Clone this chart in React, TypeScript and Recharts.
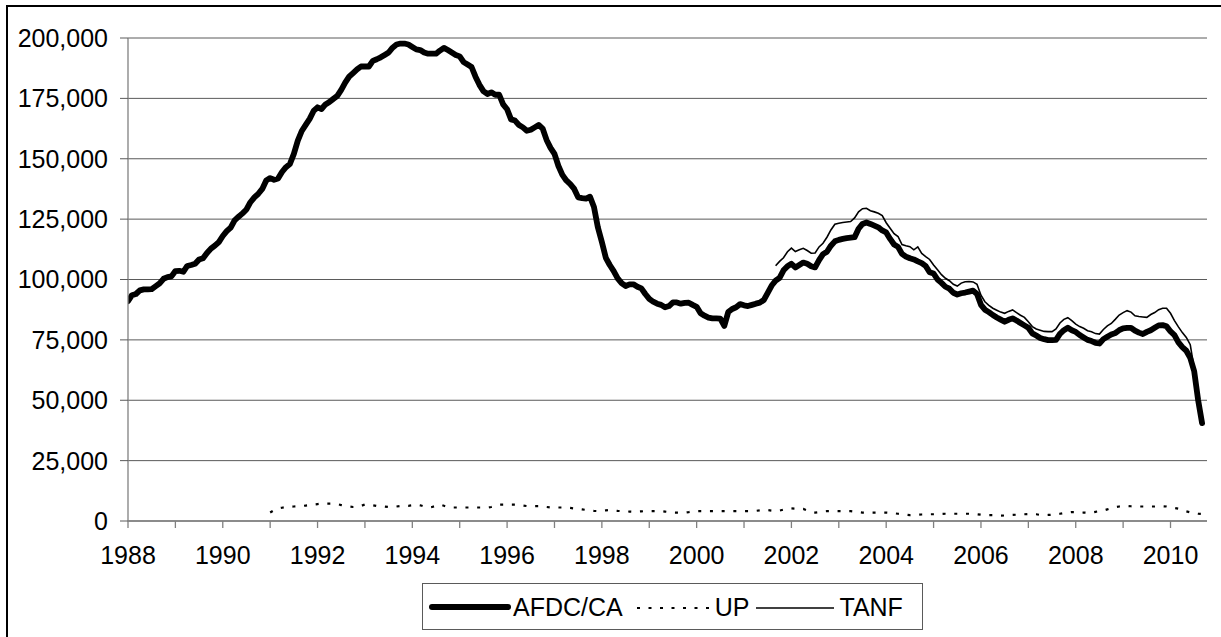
import React from 'react';
import { LineChart, Line, XAxis, YAxis, CartesianGrid } from 'recharts';

// Monthly caseload data, January 1988 onward
const START_YEAR = 1988;
const UP_START_MONTH = 36; // January 1991
const TANF_START_MONTH = 164; // September 2001

const afdcValues = [
  91000, 93500, 94000, 95500, 95900, 95900, 96000, 97200, 98400, 100300, 101000, 101300,
  103500, 103600, 103200, 105600, 106000, 106500, 108300, 108800, 111000, 112800, 114000, 115500,
  118000, 120000, 121500, 124500, 126000, 127400, 129000, 132000, 134000, 135500, 137500, 141000,
  142000, 141300, 141800, 144500, 146500, 147800, 152000, 157500, 161500, 164000, 166500, 169800,
  171300, 170600, 172500, 173500, 174800, 176000, 178500, 181500, 184000, 185500, 187000, 188200,
  188200, 188200, 190500, 191200, 192000, 193000, 194000, 196000, 197300, 197700, 197700, 197300,
  196300, 195300, 195000, 194000, 193500, 193500, 193500, 194800, 195900, 195000, 194000, 193000,
  192400, 190000, 189000, 188000, 184000, 180600, 178000, 176800, 177500, 176500, 176500, 172500,
  170500, 166300, 165800, 164000, 163000, 161600, 162000, 163000, 164000, 162500, 157800, 154500,
  152000, 147000, 143300, 141000, 139500, 137500, 134000, 133700, 133500, 134300, 130000, 121500,
  115500, 109000, 106000, 103500, 100500, 98500, 97300, 98000, 98000, 97000, 96300, 94000,
  92000, 90800, 90000, 89500, 88500, 89000, 90500, 90500, 90000, 90300, 90400, 89500,
  88700, 86000, 85000, 84200, 83900, 83900, 83800, 80800, 86500, 87800, 88500, 89800,
  89300, 89000, 89500, 90000, 90400, 91500, 94500, 97500, 99500, 100700, 103800, 105500,
  106500, 105000, 106000, 107000, 106500, 105500, 105000, 108000, 110500, 111500, 114000, 115800,
  116400, 116800, 117100, 117300, 117500, 121000, 123000, 123600, 123000, 122300, 121600, 120300,
  119500, 116800, 114500, 113500, 110600, 109500, 108800, 108300, 107500, 106800, 105600, 103000,
  102500, 100000, 98600, 97000, 96200, 94500, 93800, 94300, 94600, 95000, 95400, 94000,
  89500, 87500, 86500, 85300, 84300, 83400, 82500, 83300, 83900, 83000, 82000, 81000,
  80000, 77700, 76800, 75800, 75300, 74900, 74900, 75000, 77500, 79000, 80000, 79000,
  78300, 77000, 76000, 75000, 74500, 73800, 73500, 75300, 76300, 77200, 77800, 79000,
  79800, 80000, 80000, 78800, 78000, 77400, 78300, 79000, 80000, 81000, 81100, 80600,
  78500, 77000, 74000, 72000, 70500, 67500, 62000, 50000, 40500,
];

const upValues = [
  3500, 4500, 5200, 5500, 5800, 5900, 6000, 6100, 6200, 6400, 6600, 6800,
  7000, 7200, 7200, 7200, 7200, 7000, 6600, 6200, 6000, 5800, 5800, 6200,
  6900, 6800, 6500, 6200, 6100, 6000, 5800, 5800, 6000, 6200, 6300, 6300,
  6500, 6800, 6500, 6000, 5600, 5800, 6300, 6800, 6300, 5800, 5600, 5600,
  5600, 5600, 5600, 5600, 5600, 5600, 5600, 5600, 5800, 6300, 6800, 6800,
  6800, 6800, 6800, 6600, 6400, 6200, 6200, 6200, 6200, 6200, 5800, 5600,
  5600, 5600, 5600, 5600, 5400, 5200, 5000, 4800, 4600, 4400, 4200, 4100,
  4200, 4400, 4600, 4400, 4200, 4100, 4000, 3900, 3800, 3900, 4000, 4100,
  4100, 4100, 4100, 4100, 3900, 3700, 3500, 3500, 3500, 3500, 3700, 4000,
  4100, 4100, 4100, 4100, 4100, 4100, 4100, 4100, 4100, 4100, 4100, 4100,
  4100, 4100, 4100, 4200, 4400, 4600, 4500, 4300, 4100, 4300, 4700, 5100,
  5200, 5100, 5000, 5000, 4400, 3800, 3500, 3700, 3900, 4100, 4100, 4100,
  4100, 4100, 4100, 4100, 3900, 3700, 3500, 3500, 3500, 3500, 3500, 3500,
  3500, 3400, 3200, 3000, 2800, 2600, 2400, 2500, 2600, 2700, 2800, 2800,
  2800, 2900, 2900, 3000, 3000, 3000, 3000, 3000, 3000, 3000, 2900, 2800,
  2600, 2500, 2400, 2400, 2300, 2200, 2300, 2400, 2500, 2600, 2700, 2800,
  2900, 3000, 2800, 2500, 2400, 2500, 2600, 2800, 3000, 3300, 3500, 3700,
  3700, 3600, 3500, 3400, 3500, 3800, 4100, 4300, 4800, 5300, 5700, 6000,
  6200, 6200, 6100, 6000, 6000, 6000, 6000, 6000, 6000, 6100, 6100, 6000,
  5700, 5400, 5100, 4700, 4000, 3600, 3300, 3000, 2900,
];

const tanfValues = [
  105700, 107500, 109000, 111500,
  113000, 111600, 112300, 112900, 112000, 110900, 111000, 113500, 115000, 117500, 120500, 122900,
  123300, 123600, 123800, 124000, 125500, 128000, 129300, 129500, 128500, 128000, 127400, 126500,
  123500, 121200, 119000, 117800, 114500, 114000, 113600, 112300, 113500, 110800, 109500, 108300,
  106000, 104000, 102000, 100500, 99500, 98000, 97300, 98500, 99100, 99200, 99000, 98000,
  93500, 90800, 89300, 88100, 87300, 86500, 86000, 86800, 87400, 86300, 85200, 84300,
  82500, 80500, 79500, 79000, 78500, 78400, 78400, 79500, 82000, 83500, 84200, 83000,
  81500, 80500, 79800, 78800, 78400, 77600, 77400, 79300, 80800, 81800, 83500, 85300,
  86300, 87100, 86500, 85000, 84700, 84500, 84300, 85500, 86300, 87500, 88100, 88100,
  86000, 83000, 80400, 78000, 76000, 73000, 63000, 51000, 41500,
];

const yTicks = [0, 25000, 50000, 75000, 100000, 125000, 150000, 175000, 200000];
const yearTicks = [
  1988, 1989, 1990, 1991, 1992, 1993, 1994, 1995, 1996, 1997, 1998, 1999,
  2000, 2001, 2002, 2003, 2004, 2005, 2006, 2007, 2008, 2009, 2010,
];
const seriesNames = { afdc: 'AFDC/CA', up: 'UP', tanf: 'TANF' };

const data = afdcValues.map((v, i) => ({
  t: START_YEAR + i / 12,
  afdc: v,
  up: i >= UP_START_MONTH && i - UP_START_MONTH < upValues.length ? upValues[i - UP_START_MONTH] : null,
  tanf: i >= TANF_START_MONTH && i - TANF_START_MONTH < tanfValues.length ? tanfValues[i - TANF_START_MONTH] : null,
}));

const FONT = '"Liberation Sans", Arial, sans-serif';
const tickStyle = { fontFamily: FONT, fontSize: 25, fill: '#000' };

function LegendBox() {
  const textStyle: React.CSSProperties = { fontFamily: FONT, fontSize: 25, color: '#000', lineHeight: '28px', whiteSpace: 'nowrap' };
  return (
    <div
      style={{
        position: 'absolute',
        left: 422,
        top: 583,
        width: 499,
        height: 45,
        border: '1px solid #5a5a5a',
        background: '#fff',
        display: 'flex',
        alignItems: 'center',
        boxSizing: 'content-box',
      }}
    >
      <svg width={90} height={20} style={{ display: 'block', flex: 'none' }}>
        <line x1={9} y1={10} x2={85} y2={10} stroke="#000" strokeWidth={6} strokeLinecap="round" />
      </svg>
      <span style={textStyle}>{seriesNames.afdc}</span>
      <svg width={86} height={20} style={{ display: 'block', marginLeft: 6, flex: 'none' }}>
        <line x1={8} y1={11} x2={84} y2={11} stroke="#000" strokeWidth={2.2} strokeDasharray="3 8.5" />
      </svg>
      <span style={textStyle}>{seriesNames.up}</span>
      <svg width={90} height={20} style={{ display: 'block', flex: 'none' }}>
        <line x1={7} y1={11} x2={85} y2={11} stroke="#000" strokeWidth={1.5} />
      </svg>
      <span style={textStyle}>{seriesNames.tanf}</span>
    </div>
  );
}

export default function App() {
  return (
    <div
      style={{
        position: 'absolute',
        left: 0,
        top: 0,
        width: 1221,
        height: 637,
        overflow: 'hidden',
        background: '#fff',
      }}
    >
      <div
        style={{
          position: 'absolute',
          left: 6,
          top: 5,
          width: 1300,
          height: 700,
          borderLeft: '2px solid #000',
          borderTop: '2px solid #000',
        }}
      />
      <LineChart
        width={1221}
        height={637}
        data={data}
        margin={{ top: 38, right: 14, bottom: 86, left: 0 }}
        style={{ position: 'absolute', left: 0, top: 0 }}
      >
        <CartesianGrid vertical={false} stroke="#5a5a5a" strokeWidth={1} />
        <XAxis
          type="number"
          dataKey="t"
          domain={[1988, 2010.77]}
          allowDataOverflow
          ticks={yearTicks}
          interval={0}
          tickFormatter={(v: number) => (v % 2 === 0 ? String(v) : '')}
          tick={tickStyle}
          tickSize={7}
          tickMargin={18}
          height={30}
          axisLine={{ stroke: '#808080', strokeWidth: 1.3 }}
          tickLine={{ stroke: '#808080', strokeWidth: 1.3 }}
        />
        <YAxis
          type="number"
          domain={[0, 200000]}
          ticks={yTicks}
          interval={0}
          width={128}
          tickFormatter={(v: number) => v.toLocaleString('en-US')}
          tick={tickStyle}
          tickSize={8}
          tickMargin={12}
          axisLine={{ stroke: '#808080', strokeWidth: 1.3 }}
          tickLine={{ stroke: '#5a5a5a', strokeWidth: 1 }}
        />
        <Line
          type="linear"
          dataKey="up"
          name={seriesNames.up}
          stroke="#000"
          strokeWidth={2.2}
          strokeDasharray="3 8.7"
          dot={false}
          activeDot={false}
          isAnimationActive={false}
        />
        <Line
          type="linear"
          dataKey="tanf"
          name={seriesNames.tanf}
          stroke="#000"
          strokeWidth={1.6}
          dot={false}
          activeDot={false}
          isAnimationActive={false}
        />
        <Line
          type="linear"
          dataKey="afdc"
          name={seriesNames.afdc}
          stroke="#000"
          strokeWidth={5.8}
          strokeLinejoin="round"
          strokeLinecap="round"
          dot={false}
          activeDot={false}
          isAnimationActive={false}
        />
      </LineChart>
      <LegendBox />
    </div>
  );
}
